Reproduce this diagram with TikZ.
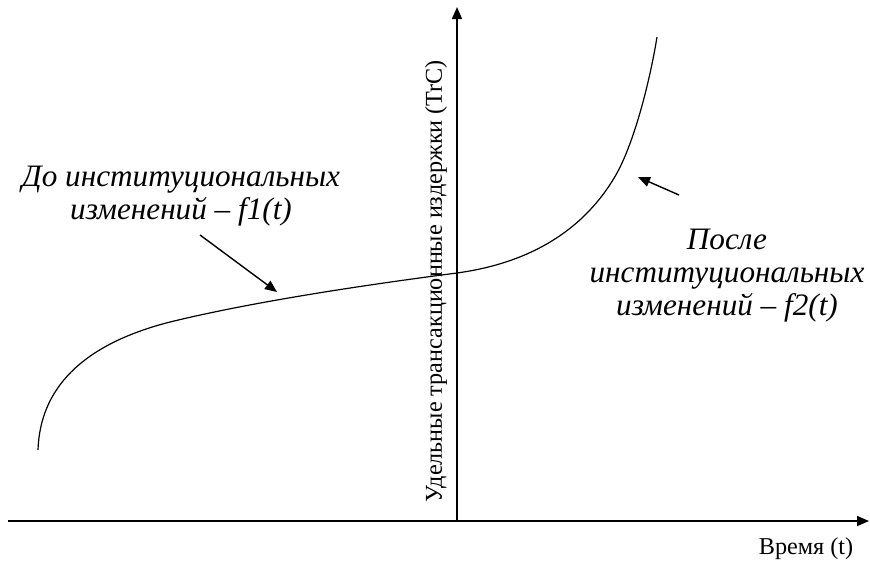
\documentclass[tikz,border=0pt]{standalone}
\usepackage{fontspec}
\setmainfont{Liberation Serif}
\usetikzlibrary{arrows.meta,positioning}

\begin{document}
\begin{tikzpicture}[
        x=0.5pt, y=-0.5pt,
        axis/.style={-{Triangle[length=6pt,width=5pt]}, line width=0.8pt},
        pointer/.style={-{Triangle[length=6pt,width=5pt]}, line width=0.7pt},
        curve/.style={line width=0.6pt},
        caption/.style={font=\fontsize{15.6}{16.5}\selectfont\itshape, align=center},
        axislabel/.style={font=\fontsize{12.1}{14}\selectfont}
    ]

    % canvas
    \useasboundingbox (0,0) rectangle (870,562);

    % Axes
    \coordinate (xstart) at (8,521);
    \coordinate (xend) at (869,521);
    \coordinate (ystart) at (457,521);
    \coordinate (yend) at (457,7);
    \draw[axis] (xstart) -- (xend);
    \draw[axis] (ystart) -- (yend);

    % Axis labels
    \node[axislabel, rotate=90] (ylabel) at (436,281) {Удельные трансакционные издержки (TrC)};
    \node[axislabel] (xlabel) at (806,549) {Время (t)};

    % Curve f1 and f2
    \coordinate (c0) at (38,450);
    \coordinate (c1) at (170,322);
    \coordinate (c2) at (457,273);
    \coordinate (c3) at (617,173);
    \coordinate (c4) at (657,37);
    \draw[curve] (c0) .. controls (40,390) and (80,345) .. (c1)
        .. controls (260,300) and (380,283) .. (c2)
        .. controls (530,263) and (585,230) .. (c3)
        .. controls (635,140) and (650,80) .. (c4);

    % Curve labels
    \node[caption] (before) at (181,196) {До институциональных\\изменений -- \textit{f1(t)}};
    \node[caption] (after) at (727,276) {После\\институциональных\\изменений -- \textit{f2(t)}};

    % Pointers
    \coordinate (p1) at (277,292);
    \coordinate (p2) at (638,177);
    \draw[pointer] (200,235) -- (p1);
    \draw[pointer] (679,195) -- (p2);

\end{tikzpicture}
\end{document}
